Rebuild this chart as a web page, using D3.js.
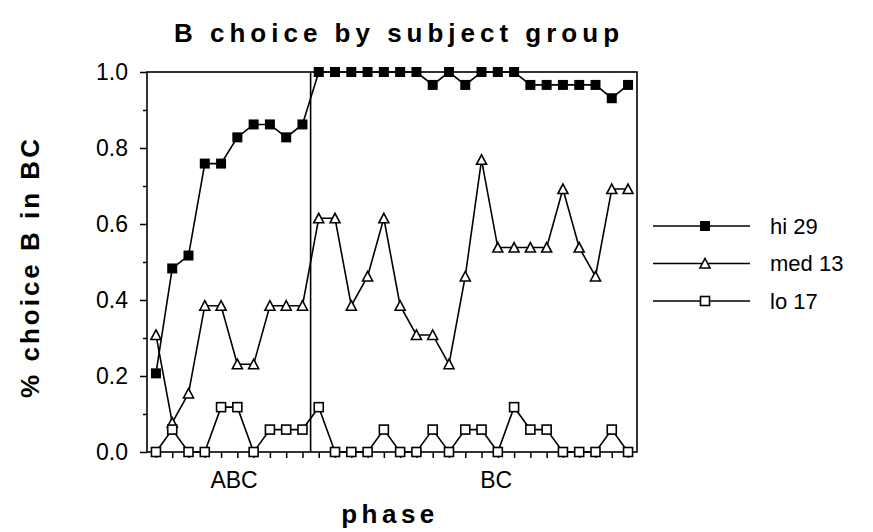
<!DOCTYPE html>
<html>
<head>
<meta charset="utf-8">
<script src="https://cdn.jsdelivr.net/npm/d3@7"></script>
<style>
  body { margin: 0; background: #fff; }
  svg { display: block; font-family: 'Liberation Sans', Arial, sans-serif; }
</style>
</head>
<body>
<svg id="chart" width="873" height="532"></svg>
<script>
// periods 0..29, first 10 are ABC phase, rest BC
const periods = d3.range(30);
const phases = [
  { name: 'ABC', from: 0, to: 9, labelAt: 4.8 },
  { name: 'BC', from: 10, to: 29, labelAt: 20.9 }
];

const hi29 = [0.207, 0.483, 0.517, 0.759, 0.759, 0.828, 0.862, 0.862, 0.828, 0.862,
  1, 1, 1, 1, 1, 1, 1, 0.966, 1, 0.966,
  1, 1, 1, 0.966, 0.966, 0.966, 0.966, 0.966, 0.931, 0.966];
const med13 = [0.308, 0.077, 0.154, 0.385, 0.385, 0.231, 0.231, 0.385, 0.385, 0.385,
  0.615, 0.615, 0.385, 0.462, 0.615, 0.385, 0.308, 0.308, 0.231, 0.462,
  0.769, 0.538, 0.538, 0.538, 0.538, 0.692, 0.538, 0.462, 0.692, 0.692];
const lo17 = [0, 0.059, 0, 0, 0.118, 0.118, 0, 0.059, 0.059, 0.059,
  0.118, 0, 0, 0, 0.059, 0, 0, 0.059, 0, 0.059,
  0.059, 0, 0.118, 0.059, 0.059, 0, 0, 0, 0.059, 0];

const yMajor = [0, 0.2, 0.4, 0.6, 0.8, 1.0];
const yMinor = [0.1, 0.3, 0.5, 0.7, 0.9];

const series = [
  { label: 'hi 29', values: hi29, marker: 'filledSquare' },
  { label: 'med 13', values: med13, marker: 'triangle' },
  { label: 'lo 17', values: lo17, marker: 'openSquare' }
];

const svg = d3.select('#chart');
const plotL = 147, plotR = 637, plotT = 72, plotB = 452;

const x = d3.scaleLinear().domain([-0.55, 29.55]).range([plotL, plotR]);
const y = d3.scaleLinear().domain([0, 1]).range([plotB, plotT]);

// frame
svg.append('rect')
  .attr('x', plotL).attr('y', plotT)
  .attr('width', plotR - plotL).attr('height', plotB - plotT)
  .attr('fill', 'none').attr('stroke', '#000').attr('stroke-width', 1.6);

// phase divider
svg.append('line')
  .attr('x1', x(9.5)).attr('x2', x(9.5))
  .attr('y1', plotT).attr('y2', plotB)
  .attr('stroke', '#000').attr('stroke-width', 1.6);

// y axis, major + minor
const yAxis = svg.append('g')
  .attr('transform', `translate(${plotL},0)`)
  .call(d3.axisLeft(y).tickValues(yMajor).tickSize(7).tickPadding(12).tickFormat(d3.format('.1f')));
svg.append('g')
  .attr('transform', `translate(${plotL},0)`)
  .call(d3.axisLeft(y).tickValues(yMinor).tickSize(4).tickFormat(''));

// x axis ticks at each period
svg.append('g')
  .attr('transform', `translate(0,${plotB})`)
  .call(d3.axisBottom(x).tickValues(periods).tickSize(6).tickFormat(''));

svg.selectAll('.domain').remove();
svg.selectAll('.tick line').attr('stroke', '#000').attr('stroke-width', 1.5);
yAxis.selectAll('text')
  .attr('fill', '#000')
  .style('font-size', '23px');

// phase labels
svg.selectAll('.phase-label')
  .data(phases)
  .enter().append('text')
  .attr('class', 'phase-label')
  .attr('x', d => x(d.labelAt))
  .attr('y', 488)
  .attr('text-anchor', 'middle')
  .style('font-size', '23px')
  .text(d => d.name);

// titles
svg.append('text')
  .attr('x', 399).attr('y', 42)
  .attr('text-anchor', 'middle')
  .style('font-size', '26px').style('font-weight', 'bold')
  .style('letter-spacing', '5px')
  .text('B choice by subject group');

svg.append('text')
  .attr('x', 390).attr('y', 523)
  .attr('text-anchor', 'middle')
  .style('font-size', '26px').style('font-weight', 'bold')
  .style('letter-spacing', '4.5px')
  .text('phase');

svg.append('text')
  .attr('transform', 'translate(39,267) rotate(-90)')
  .attr('text-anchor', 'middle')
  .style('font-size', '26px').style('font-weight', 'bold')
  .style('letter-spacing', '3px')
  .text('% choice B in BC');

function drawMarker(g, type) {
  if (type === 'filledSquare') {
    g.append('rect').attr('x', -5).attr('y', -5).attr('width', 10).attr('height', 10)
      .attr('fill', '#000');
  } else if (type === 'openSquare') {
    g.append('rect').attr('x', -4.5).attr('y', -4.5).attr('width', 9).attr('height', 9)
      .attr('fill', '#fff').attr('stroke', '#000').attr('stroke-width', 1.6);
  } else {
    g.append('path').attr('d', 'M0,-5L5,4.5L-5,4.5Z')
      .attr('fill', '#fff').attr('stroke', '#000').attr('stroke-width', 1.6);
  }
}

const line = d3.line().x((d, i) => x(i)).y(d => y(d));

series.forEach(s => {
  svg.append('path')
    .attr('d', line(s.values))
    .attr('fill', 'none').attr('stroke', '#000').attr('stroke-width', 1.6);
  svg.append('g').selectAll('g')
    .data(s.values)
    .enter().append('g')
    .attr('transform', (d, i) => `translate(${x(i)},${y(d)})`)
    .each(function() { drawMarker(d3.select(this), s.marker); });
});

// legend
const legend = svg.append('g').selectAll('g')
  .data(series)
  .enter().append('g')
  .attr('transform', (d, i) => `translate(0,${226 + i * 37.5})`);
legend.append('line')
  .attr('x1', 653).attr('x2', 750)
  .attr('stroke', '#000').attr('stroke-width', 1.6);
legend.append('g')
  .attr('transform', 'translate(705,0)')
  .each(function(d) { drawMarker(d3.select(this), d.marker); });
legend.append('text')
  .attr('x', 770).attr('dy', '0.35em')
  .style('font-size', '22px')
  .text(d => d.label);
</script>
</body>
</html>
